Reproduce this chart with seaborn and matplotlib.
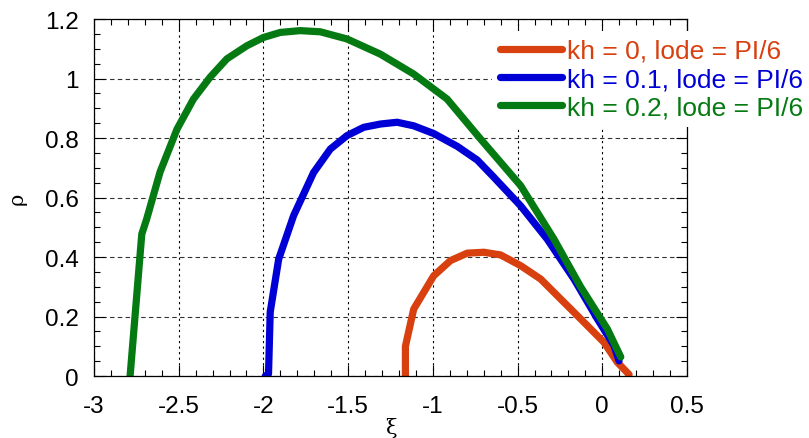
import numpy as np
import pandas as pd
import matplotlib
matplotlib.use("Agg")
import matplotlib.pyplot as plt
import seaborn as sns
from matplotlib.ticker import MultipleLocator

# curve data (xi, rho)
xi_kh0 = [-1.162, -1.162, -1.113, -0.995, -0.896, -0.797, -0.699, -0.600, -0.482,
          -0.364, -0.246, -0.128, 0.010, 0.089, 0.158]
rho_kh0 = [0.0, 0.100, 0.225, 0.337, 0.388, 0.413, 0.416, 0.407, 0.371,
           0.326, 0.259, 0.192, 0.113, 0.046, 0.005]

xi_kh1 = [-1.989, -1.970, -1.960, -1.910, -1.822, -1.704, -1.605, -1.507, -1.408,
          -1.310, -1.211, -1.113, -0.995, -0.856, -0.738, -0.640, -0.482, -0.325,
          -0.167, -0.029, 0.069, 0.099]
rho_kh1 = [0.0, 0.007, 0.215, 0.393, 0.539, 0.684, 0.763, 0.808, 0.836,
           0.847, 0.853, 0.841, 0.815, 0.772, 0.726, 0.668, 0.572, 0.460,
           0.326, 0.192, 0.102, 0.051]

xi_kh2 = [-2.787, -2.718, -2.689, -2.610, -2.510, -2.413, -2.314, -2.216, -2.098,
          -2.000, -1.900, -1.783, -1.664, -1.507, -1.310, -1.113, -0.916, -0.719,
          -0.482, -0.285, -0.128, 0.030, 0.109]
rho_kh2 = [0.0, 0.477, 0.528, 0.686, 0.830, 0.931, 1.005, 1.066, 1.110,
           1.138, 1.155, 1.161, 1.157, 1.133, 1.082, 1.015, 0.931, 0.797,
           0.640, 0.460, 0.300, 0.158, 0.064]

labels = ["kh = 0, lode = PI/6", "kh = 0.1, lode = PI/6", "kh = 0.2, lode = PI/6"]
colors = ["#d94010", "#0000d6", "#067a12"]

xticks = [-3, -2.5, -2, -1.5, -1, -0.5, 0, 0.5]
xtick_labels = ["-3", "-2.5", "-2", "-1.5", "-1", "-0.5", "0", "0.5"]
yticks = [0, 0.2, 0.4, 0.6, 0.8, 1, 1.2]
ytick_labels = ["0", "0.2", "0.4", "0.6", "0.8", "1", "1.2"]

frames = []
for xs, ys, lab in zip([xi_kh0, xi_kh1, xi_kh2], [rho_kh0, rho_kh1, rho_kh2], labels):
    frames.append(pd.DataFrame({"xi": xs, "rho": ys, "curve": lab}))
df = pd.concat(frames, ignore_index=True)

sns.set_style("ticks")
plt.rcParams["font.family"] = ["Liberation Sans", "DejaVu Sans"]

fig = plt.figure(figsize=(8.09, 4.39), dpi=100)
ax = fig.add_axes([0.1162, 0.1412, 0.7330, 0.8132])

LW = 5.2
sns.lineplot(data=df, x="xi", y="rho", hue="curve", palette=colors,
             sort=False, estimator=None, units="curve", linewidth=LW,
             legend=False, ax=ax)
for line in ax.get_lines():
    line.set_solid_joinstyle("round")

ax.set_xlim(-3, 0.5)
ax.set_ylim(0, 1.2)
ax.set_xticks(xticks)
ax.set_xticklabels(xtick_labels)
ax.set_yticks(yticks)
ax.set_yticklabels(ytick_labels)
ax.xaxis.set_minor_locator(MultipleLocator(0.1))
ax.yaxis.set_minor_locator(MultipleLocator(0.05))
ax.tick_params(which="both", direction="in", top=True, right=True,
               color="black", labelcolor="black", width=0.8)
ax.tick_params(which="major", length=8, labelsize=17.5)
ax.tick_params(axis="x", which="major", pad=14)
ax.tick_params(axis="y", which="major", pad=11)
ax.tick_params(which="minor", length=4)

ax.xaxis.grid(True, which="major", linestyle=(0, (2, 3)), color="black", linewidth=0.8)
ax.yaxis.grid(True, which="major", linestyle=(0, (4, 3)), color="black", linewidth=0.8, alpha=0.8)
ax.set_axisbelow(True)
for sp in ax.spines.values():
    sp.set_visible(True)
    sp.set_color("black")
    sp.set_linewidth(0.9)

ax.set_xlabel("ξ", fontsize=15, family=["DejaVu Serif"], labelpad=0, color="black")
ax.set_ylabel("ρ", fontsize=15, family=["DejaVu Serif"], labelpad=13, color="black")

handles = [plt.Line2D([], [], color=c, linewidth=LW) for c in colors]
leg = ax.legend(handles, labels, loc="upper left", bbox_to_anchor=(492 / 809, 1 - 32 / 439),
                bbox_transform=fig.transFigure, frameon=True, fontsize=19,
                handlelength=2.35, handletextpad=0.2, labelspacing=0.16,
                borderpad=0.3, borderaxespad=0)
leg.get_frame().set_facecolor("white")
leg.get_frame().set_edgecolor("none")
leg.get_frame().set_boxstyle("square", pad=0)
leg.get_frame().set_alpha(1)
for txt, c in zip(leg.get_texts(), colors):
    txt.set_color(c)

fig.savefig("out.png", dpi=100)
